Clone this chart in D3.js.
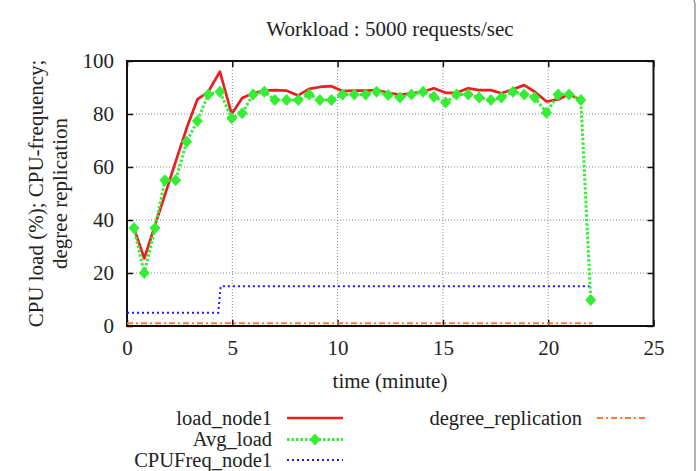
<!DOCTYPE html>
<html><head><meta charset="utf-8">
<script src="https://cdn.jsdelivr.net/npm/d3@7"></script>
<style>body{margin:0;background:#fff}svg{display:block}text{font-family:"Liberation Serif","Times New Roman",serif;fill:#222}</style>
</head><body><svg id="c" width="698" height="471"></svg>
<script>
const time = [0.33,0.82,1.33,1.80,2.31,2.83,3.34,3.86,4.41,4.97,5.47,5.99,6.52,7.02,7.58,8.13,8.65,9.16,9.71,10.24,10.79,11.33,11.85,12.40,12.96,13.51,14.06,14.57,15.13,15.65,16.20,16.72,17.28,17.78,18.33,18.86,19.36,19.92,20.47,20.99,21.55,22.02];
const loadNode1 = [37,25.5,38,49.5,62,74.6,85.5,88.4,96,80,86,87.8,88.8,89,88.8,87,89.5,90.2,90.5,88.6,88.8,88.8,89,88,87.2,87.8,88.4,89.7,88,88,89.7,89,89,87.8,89.3,90.9,88.4,84.7,85.5,87.4,85.3];
const avgLoad = [37,20,37,55,55,69.5,77.4,87.4,88.4,78.4,80.3,87.4,88.4,85.3,85.3,85.3,87.4,85.3,85.3,87.4,87.4,87.4,88.4,87.2,86.2,87.4,88.4,86.5,84.3,87.4,87.4,86.2,85.3,86.2,88.4,87.4,86.2,80.5,87.4,87.4,85.3,9.8];
const cpuTime = [0,4.33,4.45,21.97];
const cpuFreq = [5,5,15,15];
const degTime = [0,22.1];
const degree = [1,1];
const xTicks = [0,5,10,15,20,25];
const yTicks = [0,20,40,60,80,100];
const seriesNames = ["load_node1","Avg_load","CPUFreq_node1","degree_replication"];

const FS = 21, LFS = 20.5;
const svg = d3.select("#c");
const x = d3.scaleLinear().domain([0,25]).range([127,653.5]);
const y = d3.scaleLinear().domain([0,100]).range([326,61]);

// figure border
svg.append("rect").attr("x",-20).attr("y",-7).attr("width",715).attr("height",500)
  .attr("rx",12).attr("fill","none").attr("stroke","#999").attr("stroke-width",1.5);

// grid
const g = svg.append("g");
g.selectAll(".gx").data(xTicks.slice(1,-1)).join("line")
  .attr("x1",d=>x(d)).attr("x2",d=>x(d)).attr("y1",y(0)).attr("y2",y(100))
  .attr("stroke","#888").attr("stroke-width",1).attr("stroke-dasharray","1,2");
g.selectAll(".gy").data(yTicks.slice(1,-1)).join("line")
  .attr("y1",d=>y(d)).attr("y2",d=>y(d)).attr("x1",x(0)).attr("x2",x(25))
  .attr("stroke","#888").attr("stroke-width",1).attr("stroke-dasharray","1,2");

// axes (ticks inward, mirrored)
const fmt = d3.format("d");
const ax = (gen, tr) => svg.append("g").attr("transform",tr).call(gen).call(s=>s.select(".domain").remove())
  .call(s=>s.selectAll("line").attr("stroke","#111").attr("stroke-width",1.5));
const bottom = ax(d3.axisBottom(x).tickValues(xTicks).tickFormat(fmt).tickSizeInner(-6).tickPadding(14),`translate(0,${y(0)})`);
bottom.selectAll("text").attr("font-size",FS).attr("font-family","Liberation Serif").attr("fill","#222");
ax(d3.axisTop(x).tickValues(xTicks).tickFormat("").tickSizeInner(-6),`translate(0,${y(100)})`);
const left = ax(d3.axisLeft(y).tickValues(yTicks).tickFormat(fmt).tickSizeInner(-6).tickPadding(13),`translate(${x(0)},0)`);
left.selectAll("text").attr("font-size",FS).attr("font-family","Liberation Serif").attr("fill","#222");
ax(d3.axisRight(y).tickValues(yTicks).tickFormat("").tickSizeInner(-6),`translate(${x(25)},0)`);

// frame
svg.append("rect").attr("x",x(0)).attr("y",y(100)).attr("width",x(25)-x(0)).attr("height",y(0)-y(100))
  .attr("fill","none").attr("stroke","#111").attr("stroke-width",2);

const line = d3.line().x(d=>x(d[0])).y(d=>y(d[1]));
const plot = svg.append("g");
// degree replication
plot.append("path").datum(d3.zip(degTime,degree)).attr("d",line).attr("fill","none")
  .attr("stroke","#ff7733").attr("stroke-width",2).attr("stroke-dasharray","6,3,2,3");
// cpu freq
plot.append("path").datum(d3.zip(cpuTime,cpuFreq)).attr("d",line).attr("fill","none")
  .attr("stroke","#1a1aee").attr("stroke-width",2).attr("stroke-dasharray","2,3");
// load node1
plot.append("path").datum(d3.zip(time.slice(0,loadNode1.length),loadNode1)).attr("d",line).attr("fill","none")
  .attr("stroke","#ee1c1c").attr("stroke-width",2.7).attr("stroke-linejoin","round");
// avg load
const avgData = d3.zip(time,avgLoad);
plot.append("path").datum(avgData).attr("d",line).attr("fill","none")
  .attr("stroke","#33ee33").attr("stroke-width",3).attr("stroke-dasharray","2.5,2");
const diamond = "M0,-6L5.5,0L0,6L-5.5,0Z";
plot.selectAll(".pt").data(avgData).join("path").attr("d",diamond)
  .attr("transform",d=>`translate(${x(d[0])},${y(d[1])})`).attr("fill","#33ee33");

// texts
svg.append("text").attr("x",390).attr("y",36).attr("text-anchor","middle").attr("font-size",FS)
  .text("Workload : 5000 requests/sec");
svg.append("text").attr("x",390).attr("y",388).attr("text-anchor","middle").attr("font-size",FS)
  .text("time (minute)");
const yl = svg.append("text").attr("transform",`translate(0,${(y(0)+y(100))/2}) rotate(-90)`)
  .attr("text-anchor","middle").attr("font-size",FS);
yl.append("tspan").attr("x",0).attr("y",43).text("CPU load (%); CPU-frequency;");
yl.append("tspan").attr("x",0).attr("y",67).text("degree replication");

// legend
const legX = [272,582];
const legY = [418,439.5,460];
const legItems = [
  {name:seriesNames[0],col:0,row:0,stroke:"#ee1c1c",w:2.7,dash:null,marker:false},
  {name:seriesNames[1],col:0,row:1,stroke:"#33ee33",w:3,dash:"2.5,2",marker:true},
  {name:seriesNames[2],col:0,row:2,stroke:"#1a1aee",w:2,dash:"2,3",marker:false},
  {name:seriesNames[3],col:1,row:0,stroke:"#ff7733",w:2,dash:"6,3,2,3",marker:false}
];
const lg = svg.append("g").selectAll("g").data(legItems).join("g")
  .attr("transform",d=>`translate(${legX[d.col]},${legY[d.row]})`);
lg.append("text").attr("text-anchor","end").attr("dy","0.32em").attr("font-size",LFS).text(d=>d.name);
lg.append("line").attr("x1",15).attr("x2",d=>d.col?66:71).attr("y1",0).attr("y2",0)
  .attr("stroke",d=>d.stroke).attr("stroke-width",d=>d.w).attr("stroke-dasharray",d=>d.dash);
lg.filter(d=>d.marker).append("path").attr("d",diamond).attr("transform","translate(43,0)").attr("fill","#33ee33");
</script></body></html>
